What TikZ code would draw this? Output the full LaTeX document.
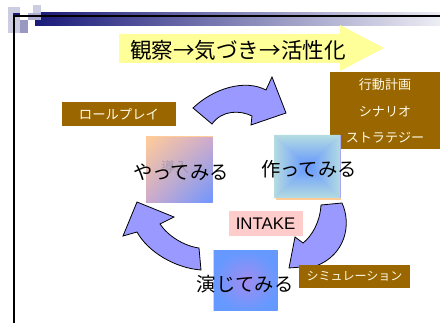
\documentclass[tikz,border=0pt]{standalone}
\usepackage{fontspec}
\newfontfamily\jp{Noto Sans CJK JP}
\newfontfamily\lat{Liberation Sans}
\usetikzlibrary{calc,shadings}
\definecolor{brownbox}{HTML}{996600}
\definecolor{boxtext}{HTML}{FFFBE6}
\definecolor{arrowfill}{HTML}{9999FF}
\definecolor{yel}{HTML}{FFFF99}
\definecolor{peach}{HTML}{FFCC99}
\definecolor{navy}{HTML}{1A1A7A}
\definecolor{pink}{HTML}{FFCCCC}
\definecolor{sqblue}{RGB}{110,150,255}
\definecolor{sqmid}{RGB}{205,170,205}
\definecolor{sqcyan}{RGB}{180,220,225}
\definecolor{sqcore}{RGB}{100,150,255}
\definecolor{sqpurple}{RGB}{160,140,240}
\definecolor{sqbase}{RGB}{102,153,255}
\definecolor{sqshadow}{RGB}{170,170,240}
\definecolor{fadetext}{RGB}{150,140,170}
\tikzset{
  brownlabel/.style={fill=brownbox, text=boxtext, inner sep=0pt, font=\jp},
  cyclearrow/.style={fill=arrowfill, draw=black, line width=0.6pt, line join=miter},
  bigtext/.style={font=\jp\fontsize{14.5pt}{16pt}\selectfont, text=black, inner sep=0pt},
}
\begin{document}
\begin{tikzpicture}[x=0.75pt,y=-0.75pt]
\useasboundingbox (0,0) rectangle (440,323);
\fill[white] (0,0) rectangle (440,323);

% ---- top-left decoration ----
\fill[left color=navy, right color=navy!8] (35,13) rectangle (440,26);
\fill[navy!22] (8,7) rectangle (20,33);
\fill[navy!45] (20,20) rectangle (28,33);
\fill[navy!35] (28,13) rectangle (41,20);
\fill[navy!22] (33,5) rectangle (41,13);
\fill[navy] (13,13) rectangle (20,17);
\draw[black, line width=1.8pt] (14,323) -- (14,16) -- (440,16);

% ---- title arrow ----
\fill[yel] (119,34) -- (340,34) -- (340,25) -- (384,48) -- (340,71) -- (340,63) -- (119,63) -- cycle;
\node[font=\jp\fontsize{16.2pt}{18pt}\selectfont, inner sep=0pt] (title) at (238,50) {観察→気づき→活性化};

% ---- brown boxes ----
\node[brownlabel, minimum width=110*0.75pt, minimum height=77*0.75pt, anchor=north west] (plan) at (330,72) {};
\node[font=\jp\fontsize{9.8pt}{11pt}\selectfont, text=boxtext, inner sep=0pt] (p1) at (385,85) {行動計画};
\node[font=\jp\fontsize{9.8pt}{11pt}\selectfont, text=boxtext, inner sep=0pt] (p2) at (385,111.5) {シナリオ};
\node[font=\jp\fontsize{9.8pt}{11pt}\selectfont, text=boxtext, inner sep=0pt] (p3) at (385,138) {ストラテジー};

\node[brownlabel, minimum width=114*0.75pt, minimum height=23.5*0.75pt, font=\jp\fontsize{10pt}{11pt}\selectfont] (role) at (119,114) {ロールプレイ};

% ---- squares ----
% left square
\fill[peach] (146,136) rectangle (213,203);
\shade[upper left=peach, lower right=sqblue, upper right=sqmid, lower left=sqmid] (146,137.5) rectangle (212.5,202.5);
\node[font=\jp\fontsize{10.5pt}{12pt}\selectfont, text=fadetext, opacity=0.7, inner sep=0pt] (intro) at (175,167) {導入};

% right square (rectangular gradient)
\fill[peach] (276,137) rectangle (341,200);
\fill[sqshadow] (275,135) rectangle (340.5,198.5);
\begin{scope}
  \clip (274,135) -- (340.5,135) -- (307.25,166.4) -- cycle;
  \shade[top color=sqcyan, bottom color=sqcore] (274,135) rectangle (340.5,166.4);
\end{scope}
\begin{scope}
  \clip (274,197.8) -- (340.5,197.8) -- (307.25,166.4) -- cycle;
  \shade[bottom color=sqcyan, top color=sqcore] (274,166.4) rectangle (340.5,197.8);
\end{scope}
\begin{scope}
  \clip (274,135) -- (274,197.8) -- (307.25,166.4) -- cycle;
  \shade[left color=sqcyan, right color=sqcore] (274,135) rectangle (307.25,197.8);
\end{scope}
\begin{scope}
  \clip (340.5,135) -- (340.5,197.8) -- (307.25,166.4) -- cycle;
  \shade[right color=sqcyan, left color=sqcore] (307.25,135) rectangle (340.5,197.8);
\end{scope}

% bottom square
\fill[peach] (213,250) rectangle (277.5,311);
\begin{scope}
  \clip (214,251) rectangle (277.5,311);
  \shade[inner color=sqpurple, outer color=sqbase] (214,251) rectangle (277.5,311);
\end{scope}

% ---- cycle arrows ----
% top arrow
\path[cyclearrow] (193,108) .. controls (214,88) and (245,79) .. (266,90)
  -- (272,77) -- (286,113) -- (251,125) -- (252,116)
  .. controls (240,110) and (222,110) .. (212,124) -- cycle;
% left arrow
\path[cyclearrow] (123,236) -- (137,202) -- (174,217) -- (160,224)
  .. controls (168,236) and (184,246) .. (199,248)
  -- (201,270)
  .. controls (175,268) and (148,252) .. (137,232) -- cycle;
% right-bottom arrow
\path[cyclearrow] (321,205) -- (342,203)
  .. controls (352,225) and (345,255) .. (316,266)
  -- (289,268) -- (295,237) -- (303,243)
  .. controls (312,236) and (320,222) .. (321,205) -- cycle;

% ---- labels ----
\node[bigtext] (doit) at (181,172) {やってみる};
\node[bigtext] (make) at (309,169) {作ってみる};
\node[bigtext] (act) at (245,284) {演じてみる};

\node[fill=pink, minimum width=74*0.75pt, minimum height=25.5*0.75pt, inner sep=0pt, font=\lat\fontsize{12.6pt}{14pt}\selectfont] (intake) at (265.5,223.5) {INTAKE};

\node[brownlabel, minimum width=111*0.75pt, minimum height=23.5*0.75pt, font=\jp\fontsize{9pt}{10pt}\selectfont] (sim) at (354.5,276.7) {シミュレーション};
\end{tikzpicture}
\end{document}
